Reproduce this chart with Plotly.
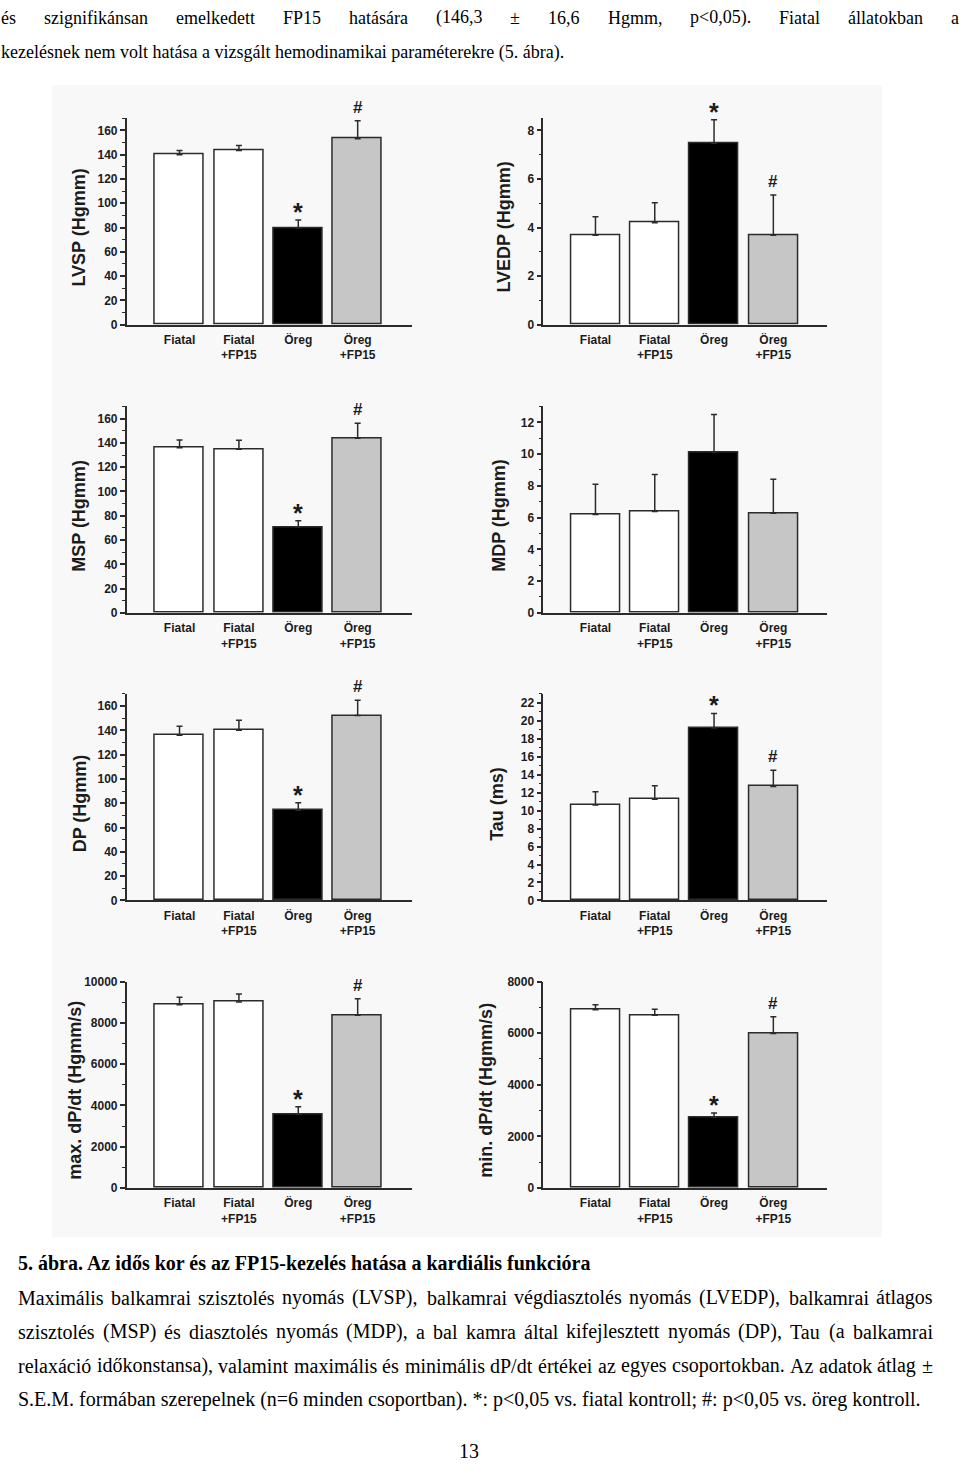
import plotly.graph_objects as go

W, H = 960, 1469

# ---------------- data ----------------
categories = ["Fiatal", "Fiatal<br>+FP15", "Öreg", "Öreg<br>+FP15"]
bar_colors = ["#ffffff", "#ffffff", "#000000", "#c6c6c6"]

lvsp = [140.0, 143.4, 79.6, 153.2]
lvsp_err = [3.4, 4.1, 6.6, 14.7]
lvsp_sig = ["", "", "*", "#"]

lvedp = [3.68, 4.20, 7.47, 3.68]
lvedp_err = [0.76, 0.82, 0.97, 1.66]
lvedp_sig = ["", "", "*", "#"]

msp = [135.9, 134.8, 70.7, 143.8]
msp_err = [6.5, 7.3, 5.1, 12.4]
msp_sig = ["", "", "*", "#"]

mdp = [6.19, 6.39, 10.13, 6.27]
mdp_err = [1.91, 2.33, 2.37, 2.14]
mdp_sig = ["", "", "", ""]

dp = [136.1, 140.2, 74.3, 152.2]
dp_err = [7.3, 8.1, 6.2, 12.7]
dp_sig = ["", "", "*", "#"]

tau = [10.64, 11.26, 19.2, 12.7]
tau_err = [1.46, 1.51, 1.63, 1.80]
tau_sig = ["", "", "*", "#"]

maxdp = [8880, 9008, 3568, 8368]
maxdp_err = [352, 384, 368, 800]
maxdp_sig = ["", "", "*", "#"]

mindp = [6908, 6692, 2742, 5985]
mindp_err = [192, 231, 166, 653]
mindp_sig = ["", "", "*", "#"]

# title, values, errors, significance, y max, major dtick, minor dtick, column, row, title x (px)
panels = [
    ("LVSP (Hgmm)", lvsp, lvsp_err, lvsp_sig, 170, 20, 10, 0, 0, 79),
    ("LVEDP (Hgmm)", lvedp, lvedp_err, lvedp_sig, 8.5, 2, 1, 1, 0, 504),
    ("MSP (Hgmm)", msp, msp_err, msp_sig, 170, 20, 10, 0, 1, 79),
    ("MDP (Hgmm)", mdp, mdp_err, mdp_sig, 13, 2, 1, 1, 1, 499),
    ("DP (Hgmm)", dp, dp_err, dp_sig, 170, 20, 10, 0, 2, 80),
    ("Tau (ms)", tau, tau_err, tau_sig, 23, 2, 1, 1, 2, 497.5),
    ("max. dP/dt (Hgmm/s)", maxdp, maxdp_err, maxdp_sig, 10000, 2000, 1000, 0, 3, 75),
    ("min. dP/dt (Hgmm/s)", mindp, mindp_err, mindp_sig, 8000, 2000, 1000, 1, 3, 486),
]

top_lines = [
    ("és szignifikánsan emelkedett FP15 hatására (146,3 ± 16,6 Hgmm, p<0,05). Fiatal állatokban a", True),
    ("kezelésnek nem volt hatása a vizsgált hemodinamikai paraméterekre (5. ábra).", False),
]
caption_title = "5. ábra. Az idős kor és az FP15-kezelés hatása a kardiális funkcióra"
caption_lines = [
    ("Maximális balkamrai szisztolés nyomás (LVSP), balkamrai végdiasztolés nyomás (LVEDP), balkamrai átlagos", True),
    ("szisztolés (MSP) és diasztolés nyomás (MDP), a bal kamra által kifejlesztett nyomás (DP), Tau (a balkamrai", True),
    ("relaxáció időkonstansa), valamint maximális és minimális dP/dt értékei az egyes csoportokban. Az adatok átlag ±", True),
    ("S.E.M. formában szerepelnek (n=6 minden csoportban). *: p<0,05 vs. fiatal kontroll; #: p<0,05 vs. öreg kontroll.", False),
]
page_number = "13"

# ---------------- layout helpers ----------------
AX_COLOR = "#2b2b2b"
TXT_COLOR = "#1c1c1c"
SANS = "Liberation Sans, Arial, sans-serif"
SERIF = "Liberation Serif, Times New Roman, serif"

col_x = [(126.7, 411.7), (543.3, 826.7)]
row_bottom = [320.7, 611.7, 902.0, 1192.3]
plot_h = 208.4
x_ranges = [(-0.89, 3.91), (-0.88, 3.90)]


def py(p):
    return 1 - p / H


fig = go.Figure()
annotations = []

for i, (title, vals, errs, sig, ymax, dt, mdt, c, r, tx) in enumerate(panels):
    n = i + 1
    xa = "x" if n == 1 else f"x{n}"
    ya = "y" if n == 1 else f"y{n}"
    fig.add_trace(go.Bar(
        x=[0, 1, 2, 3], y=vals, xaxis=xa, yaxis=ya,
        width=0.826,
        marker=dict(color=bar_colors, line=dict(color=AX_COLOR, width=1.5)),
        error_y=dict(type="data", symmetric=False, array=errs,
                     arrayminus=[0, 0, 0, 0], color=AX_COLOR,
                     thickness=1.5, width=3),
        showlegend=False, hoverinfo="skip",
    ))
    x0, x1 = col_x[c]
    b = row_bottom[r]
    axis_common = dict(showline=True, linecolor=AX_COLOR, linewidth=1.5,
                       showgrid=False, zeroline=False)
    fig.layout[("xaxis" if n == 1 else f"xaxis{n}")] = dict(
        domain=[x0 / W, x1 / W], anchor=ya, range=list(x_ranges[c]),
        tickmode="array", tickvals=[0, 1, 2, 3], ticktext=categories,
        ticks="", tickfont=dict(family=SANS, size=12, color=TXT_COLOR, weight="bold"),
        ticklabelstandoff=3,
        **axis_common)
    fig.layout[("yaxis" if n == 1 else f"yaxis{n}")] = dict(
        domain=[py(b), py(b - plot_h)], anchor=xa, range=[0, ymax],
        tick0=0, dtick=dt, ticks="outside", ticklen=5, tickwidth=1.5,
        tickcolor=AX_COLOR, tickformat="d",
        minor=dict(dtick=mdt, tick0=0, ticks="outside", ticklen=3,
                   tickwidth=1.2, tickcolor=AX_COLOR),
        tickfont=dict(family=SANS, size=12, color=TXT_COLOR, weight="bold"),
        **axis_common)
    # axis title
    annotations.append(dict(
        text=title, xref="paper", yref="paper", x=tx / W, y=py(b - 98),
        xanchor="center", yanchor="middle", textangle=-90, showarrow=False,
        font=dict(family=SANS, size=18, color=TXT_COLOR, weight="bold")))
    # significance marks
    for k in range(4):
        s = sig[k]
        if not s:
            continue
        star = s == "*"
        annotations.append(dict(
            text=s, xref=xa, yref=ya, x=k, y=vals[k] + errs[k],
            xanchor="center", yanchor="middle", showarrow=False,
            yshift=8 if star else 13.5,
            font=dict(family=SANS, size=25 if star else 17, color=TXT_COLOR,
                      weight="bold")))

# ---------------- text ----------------
TIMES = {' ': 250, '!': 333, '#': 500, '(': 333, ')': 333, '*': 500, '+': 564,
         ',': 250, '-': 333, '.': 250, '/': 278, ':': 278, ';': 278, '<': 564,
         '=': 564, '>': 564, '±': 564,
         'A': 722, 'B': 667, 'C': 667, 'D': 722, 'E': 611, 'F': 556, 'G': 722,
         'H': 722, 'I': 333, 'J': 389, 'K': 722, 'L': 611, 'M': 889, 'N': 722,
         'O': 722, 'P': 556, 'Q': 722, 'R': 667, 'S': 556, 'T': 611, 'U': 722,
         'V': 722, 'W': 944, 'X': 722, 'Y': 722, 'Z': 611,
         'a': 444, 'b': 500, 'c': 444, 'd': 500, 'e': 444, 'f': 333, 'g': 500,
         'h': 500, 'i': 278, 'j': 278, 'k': 500, 'l': 278, 'm': 778, 'n': 500,
         'o': 500, 'p': 500, 'q': 500, 'r': 333, 's': 389, 't': 278, 'u': 500,
         'v': 500, 'w': 722, 'x': 500, 'y': 500, 'z': 444,
         'á': 444, 'é': 444, 'í': 278, 'ó': 500, 'ö': 500, 'ő': 500, 'ú': 500,
         'ü': 500, 'ű': 500}
for d in "0123456789":
    TIMES[d] = 500


def tw(s, size):
    return sum(TIMES.get(ch, 500) for ch in s) / 1000 * size


def esc(s):
    return s.replace("&", "&amp;").replace("<", "&lt;").replace(">", "&gt;")


def add_line(text, x0, x1, yc, size, justify, bold=False):
    font = dict(family=SERIF, size=size, color="#000000",
                weight="bold" if bold else "normal")
    if not justify:
        annotations.append(dict(text=esc(text), xref="paper", yref="paper",
                                x=x0 / W, y=py(yc), xanchor="left", yanchor="middle",
                                showarrow=False, font=font, borderpad=0))
        return
    words = text.split(" ")
    widths = [tw(w, size) for w in words]
    gap = (x1 - x0 - sum(widths)) / (len(words) - 1)
    x = x0
    for w, wd in zip(words, widths):
        annotations.append(dict(text=esc(w), xref="paper", yref="paper",
                                x=x / W, y=py(yc), xanchor="left", yanchor="middle",
                                showarrow=False, font=font, borderpad=0))
        x += wd + gap


for (t, j), yc in zip(top_lines, [11, 46]):
    add_line(t, 0, 958, yc, 18, j)

add_line(caption_title, 17, 932, 1268, 20, False, bold=True)
for (t, j), yc in zip(caption_lines, [1303, 1337.5, 1372, 1406]):
    add_line(t, 17, 932, yc, 20, j)

annotations.append(dict(text=page_number, xref="paper", yref="paper",
                        x=469 / W, y=py(1458), xanchor="center", yanchor="middle",
                        showarrow=False, font=dict(family=SERIF, size=20, color="#000")))

fig.update_layout(
    width=W, height=H, margin=dict(l=0, r=0, t=0, b=0),
    paper_bgcolor="#ffffff", plot_bgcolor="rgba(0,0,0,0)",
    annotations=annotations, bargap=0,
    shapes=[dict(type="rect", xref="paper", yref="paper", layer="below",
                 x0=52 / W, x1=882 / W, y0=py(1242), y1=py(79),
                 fillcolor="#f8f8f8", line=dict(width=0))],
)

fig.write_html("out.html")
